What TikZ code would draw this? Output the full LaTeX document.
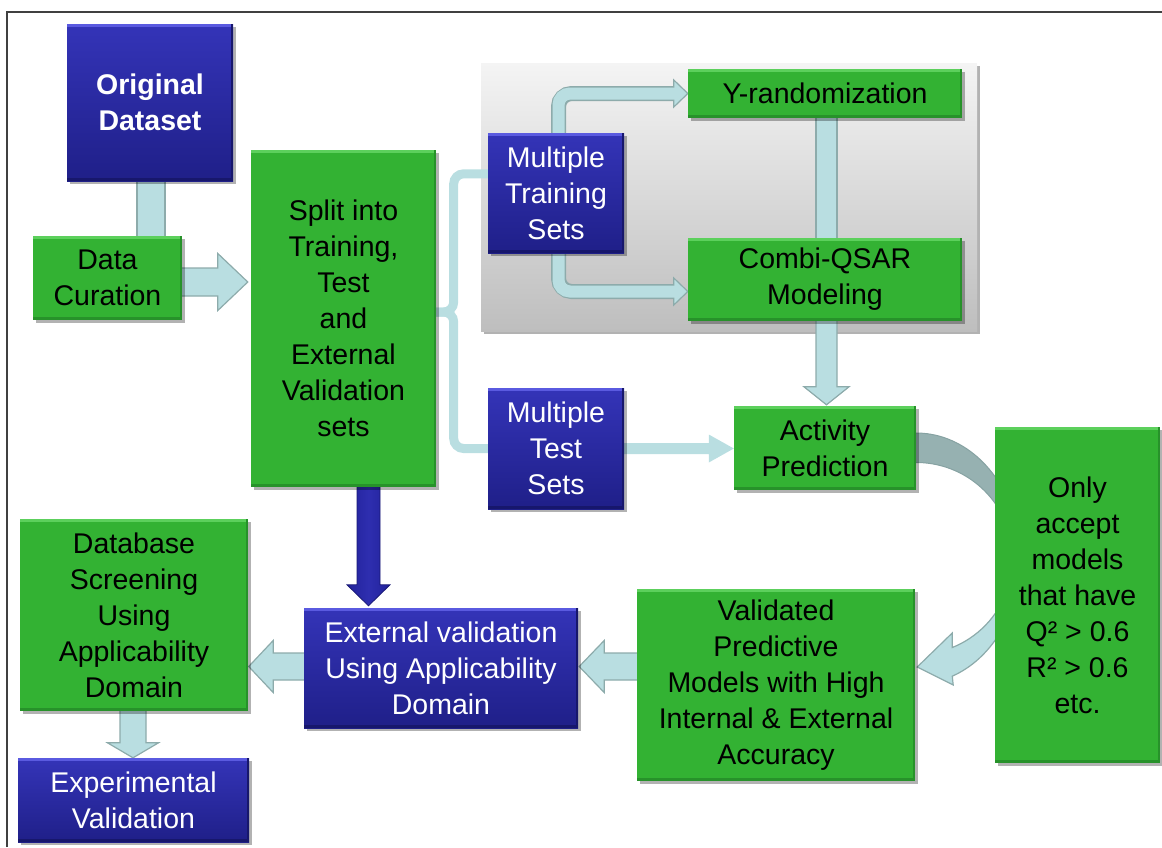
\documentclass[tikz,border=0pt]{standalone}
\usepackage{fontspec}
\setmainfont{Liberation Sans}
\usetikzlibrary{calc,shadows}
\pgfdeclarelayer{back}
\pgfdeclarelayer{mid}
\pgfsetlayers{back,mid,main}

\definecolor{gfill}{HTML}{33B233}
\definecolor{gtop}{HTML}{5CD05C}
\definecolor{gdark}{HTML}{27922A}
\definecolor{btop}{HTML}{3434B8}
\definecolor{bbot}{HTML}{1F1F88}
\definecolor{blight}{HTML}{5A5AE0}
\definecolor{bdark}{HTML}{17176C}
\definecolor{lb}{HTML}{B9DEE1}
\definecolor{lbo}{HTML}{8DABAB}
\definecolor{cdark}{HTML}{96B1B1}
\definecolor{cdarkline}{HTML}{86A2A2}
\definecolor{darkarrow}{HTML}{22229A}
\definecolor{darkarrowmid}{HTML}{2E2EB0}
\definecolor{darkarrowline}{HTML}{191975}
\definecolor{paneltop}{HTML}{F4F4F4}
\definecolor{panelbot}{HTML}{BEBEBE}

\newcommand{\boxfont}{\fontsize{28.5}{36}\selectfont}

\tikzset{
  boxshadow/.style={drop shadow={shadow xshift=2.5pt,shadow yshift=-3pt,opacity=0.3,fill=black}},
  gbox/.style={rectangle, inner sep=0pt, align=center, text=black, fill=gfill, boxshadow,
    path picture={
      \fill[gtop] (path picture bounding box.north west) rectangle ([yshift=-3pt]path picture bounding box.north east);
      \fill[gdark] (path picture bounding box.south west) rectangle ([yshift=3pt]path picture bounding box.south east);
      \fill[gdark] (path picture bounding box.south east) rectangle ([xshift=-2.5pt]path picture bounding box.north east);
    }},
  bbox/.style={rectangle, inner sep=0pt, align=center, text=white, top color=btop, bottom color=bbot, boxshadow,
    path picture={
      \fill[blight] (path picture bounding box.north west) rectangle ([yshift=-3pt]path picture bounding box.north east);
      \fill[bdark] (path picture bounding box.south west) rectangle ([yshift=3pt]path picture bounding box.south east);
      \fill[bdark] (path picture bounding box.south east) rectangle ([xshift=-2pt]path picture bounding box.north east);
    }},
  lbar/.style={fill=lb, draw=lbo, line width=1.2pt, line join=miter},
  plainarrow/.style={fill=lb},
  darr/.style={left color=darkarrow, right color=darkarrow, middle color=darkarrowmid, draw=darkarrowline, line width=0.8pt},
  brace/.style={draw=lb, line width=9pt, rounded corners=10pt},
  elbowout/.style={draw=lbo, line width=15pt, rounded corners=13pt},
  elbowin/.style={draw=lb, line width=12pt, rounded corners=11.5pt},
  frameline/.style={draw=black!75, line width=1.5pt},
}

\begin{document}
\begin{tikzpicture}[x=1pt, y=1pt, font=\boxfont]
\useasboundingbox (0,0) rectangle (1162,-847);

% frame
\draw[frameline] (7,-847) -- (7,-12) -- (1162,-12);

% grey panel behind the modelling steps
\begin{pgfonlayer}{back}
  \path[top color=paneltop, bottom color=panelbot, boxshadow] (481,-63) rectangle (977,-331);
\end{pgfonlayer}

% boxes
\node[bbox, minimum width=166, minimum height=157, font=\boxfont\bfseries] (orig) at (150,-102.5) {Original\\Dataset};
\node[gbox, minimum width=149, minimum height=84] (cur) at (107.5,-278) {Data\\Curation};
\node[gbox, minimum width=185, minimum height=337] (split) at (343.5,-318.5) {Split into\\Training,\\Test\\and\\External\\Validation\\sets};
\node[bbox, minimum width=136, minimum height=120] (mtr) at (556,-193) {Multiple\\Training\\Sets};
\node[gbox, minimum width=274, minimum height=49] (yr) at (825,-93.5) {Y-randomization};
\node[gbox, minimum width=274, minimum height=83] (cq) at (825,-279.5) {Combi-QSAR\\Modeling};
\node[bbox, minimum width=136, minimum height=121] (mte) at (556,-448.5) {Multiple\\Test\\Sets};
\node[gbox, minimum width=182, minimum height=84] (act) at (825,-448) {Activity\\Prediction};
\node[gbox, minimum width=165, minimum height=336] (only) at (1077.5,-595) {Only\\accept\\models\\that have\\Q² > 0.6\\R² > 0.6\\etc.};
\node[gbox, minimum width=278, minimum height=192] (val) at (776,-685) {Validated\\Predictive\\Models with High\\Internal \& External\\Accuracy};
\node[bbox, minimum width=274, minimum height=120] (ext) at (441,-668) {External validation\\Using Applicability\\Domain};
\node[gbox, minimum width=228, minimum height=192] (db) at (134,-615) {Database\\Screening\\Using\\Applicability\\Domain};
\node[bbox, minimum width=231, minimum height=84] (exp) at (133.5,-800) {Experimental\\Validation};

\begin{pgfonlayer}{mid}
  % dataset to curation
  \path[lbar] let \p1=(orig.south), \p2=(cur.north) in (\x1-13,\y1+2) rectangle (\x1+15,\y2-2);
  % curation to split
  \path[lbar] let \p1=(cur.east), \p2=(split.west) in
    (\x1-2,\y1+10) -- (\x2-33,\y1+10) -- (\x2-33,\y1+24.5) -- (\x2-3,\y1-4)
    -- (\x2-33,\y1-32.5) -- (\x2-33,\y1-18) -- (\x1-2,\y1-18) -- cycle;
  % split to external validation
  \path[darr] let \p1=(split.south), \p2=(ext.north) in
    (\x1+13.5,\y1+2) -- (\x1+13.5,\y2+23) -- (\x1+3.5,\y2+23) -- (\x1+25,\y2+2)
    -- (\x1+46.5,\y2+23) -- (\x1+36.5,\y2+23) -- (\x1+36.5,\y1+2) -- cycle;
  % brace from split to the two set boxes
  \draw[brace] let \p1=(mtr.north west), \p2=(split.east) in
    (\x1+3,\y1-41) -- (\x2+17.5,\y1-41) -- (\x2+17.5,\y2+6.5) -- (\x2-2,\y2+6.5);
  \draw[brace] let \p1=(mte.west), \p2=(split.east) in
    (\x1+3,\y1) -- (\x2+17.5,\y1) -- (\x2+17.5,\y2+6.5) -- (\x2-2,\y2+6.5);
  % training sets to Y-randomization
  \draw[elbowout] let \p1=(mtr.north), \p2=(yr.west) in (\x1+2.5,\y1-3) |- (\x2-13,\y2);
  \path[lbar] let \p2=(yr.west) in (\x2-14,\y2+13.5) -- (\x2,\y2) -- (\x2-14,\y2-13.5) -- cycle;
  \draw[elbowin] let \p1=(mtr.north), \p2=(yr.west) in (\x1+2.5,\y1-3) |- (\x2-12,\y2);
  % training sets to Combi-QSAR
  \draw[elbowout] let \p1=(mtr.south), \p2=(cq.west) in (\x1+2.5,\y1+3) |- (\x2-13,\y2-12);
  \path[lbar] let \p2=(cq.west) in (\x2-14,\y2+1.5) -- (\x2,\y2-12) -- (\x2-14,\y2-25.5) -- cycle;
  \draw[elbowin] let \p1=(mtr.south), \p2=(cq.west) in (\x1+2.5,\y1+3) |- (\x2-12,\y2-12);
  % Y-randomization to Combi-QSAR
  \path[lbar] let \p1=(yr.south), \p2=(cq.north) in (\x1-9,\y1+2) rectangle (\x1+12,\y2-2);
  % Combi-QSAR to activity prediction
  \path[lbar] let \p1=(cq.south), \p2=(act.north) in
    (\x1-9,\y1+2) -- (\x1-9,\y2+19) -- (\x1-21,\y2+19) -- (\x1+1.5,\y2+1)
    -- (\x1+24,\y2+19) -- (\x1+12,\y2+19) -- (\x1+12,\y1+2) -- cycle;
  % test sets to activity prediction
  \path[plainarrow] let \p1=(mte.east), \p2=(act.west) in
    (\x1-2,\y1+5.5) -- (\x2-25,\y1+5.5) -- (\x2-25,\y1+14) -- (\x2,\y1)
    -- (\x2-25,\y1-14) -- (\x2-25,\y1-5.5) -- (\x1-2,\y1-5.5) -- cycle;
  % curved arrow round the acceptance criteria
  \coordinate (cc) at ($(act.east)+(0,-110.5)$);
  \path[fill=cdark, draw=cdarkline, line width=1pt]
    ($(cc)+(93:104 and 125.5)$) arc[start angle=93, end angle=20, x radius=104, y radius=125.5]
    -- ($(cc)+(20:96.4 and 96)$) arc[start angle=20, end angle=93, x radius=96.4, y radius=96] -- cycle;
  \path[lbar]
    ($(cc)+(-20:104 and 125.5)$) arc[start angle=-20, end angle=-69.7, x radius=104, y radius=125.5]
    -- ($(cc)+(37,-126.5)$) -- ($(cc)+(1,-108.5)$) -- ($(cc)+(36,-74.5)$)
    -- ($(cc)+(-68.1:96.4 and 96)$) arc[start angle=-68.1, end angle=-20, x radius=96.4, y radius=96] -- cycle;
  % validated models to external validation
  \path[lbar] let \p1=(val.west), \p2=(ext.east) in
    (\x1+2,\y2+15) -- (\x2+26,\y2+15) -- (\x2+26,\y2+27.5) -- (\x2+1,\y2+1.5)
    -- (\x2+26,\y2-24.5) -- (\x2+26,\y2-12) -- (\x1+2,\y2-12) -- cycle;
  % external validation to database screening
  \path[lbar] let \p1=(ext.west), \p2=(db.east) in
    (\x1+2,\y1+15) -- (\x2+25,\y1+15) -- (\x2+25,\y1+27.5) -- (\x2+0.5,\y1+1.5)
    -- (\x2+25,\y1-24.5) -- (\x2+25,\y1-12) -- (\x1+2,\y1-12) -- cycle;
  % database screening to experimental validation
  \path[lbar] let \p1=(db.south), \p2=(exp.north) in
    (\x1-14,\y1+2) -- (\x1-14,\y2+15) -- (\x1-26.5,\y2+15) -- (\x1-1,\y2)
    -- (\x1+24.5,\y2+15) -- (\x1+12,\y2+15) -- (\x1+12,\y1+2) -- cycle;
\end{pgfonlayer}
\end{tikzpicture}
\end{document}
